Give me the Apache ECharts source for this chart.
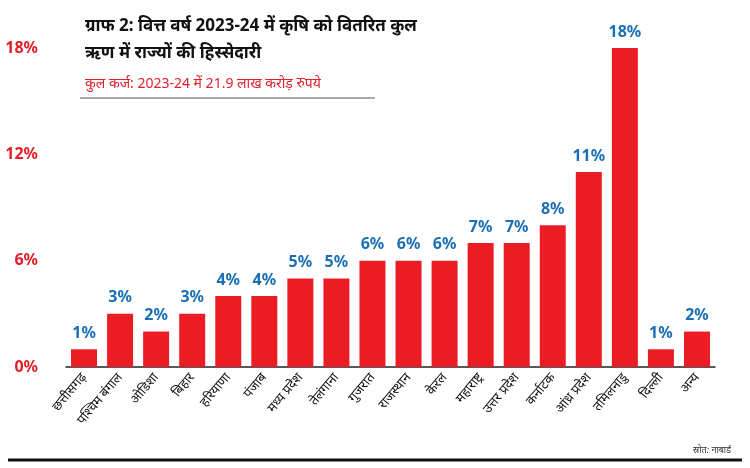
<!DOCTYPE html>
<html><head><meta charset="utf-8">
<script src="https://cdn.jsdelivr.net/npm/echarts@6/dist/echarts.min.js"></script>
<style>body{margin:0}#c{width:750px;height:468px}</style></head>
<body><div id="c"></div>
<script>
const categories=["छत्तीसगढ़","पश्चिम बंगाल","ओडिशा","बिहार","हरियाणा","पंजाब","मध्य प्रदेश","तेलंगाना","गुजरात","राजस्थान","केरल","महाराष्ट्र","उत्तर प्रदेश","कर्नाटक","आंध्र प्रदेश","तमिलनाडु","दिल्ली","अन्य"];
const values=[1,3,2,3,4,4,5,5,6,6,6,7,7,8,11,18,1,2];
const yTicks=[0,6,12,18];
const F="'Noto Sans', sans-serif";
const chart=echarts.init(document.getElementById('c'));
chart.setOption({
 animation:false,
 title:[{text:"ग्राफ 2: वित्त वर्ष 2023-24 में कृषि को वितरित कुल\nऋण में राज्यों की हिस्सेदारी",left:80,top:8,textStyle:{fontFamily:F,fontSize:17,fontWeight:'bold',color:'#111',lineHeight:27}},
 {text:"कुल कर्ज: 2023-24 में 21.9 लाख करोड़ रुपये",left:80,top:72,textStyle:{fontFamily:F,fontSize:14,fontWeight:'normal',color:'#e3202a'}},
 {text:"स्रोत: नाबार्ड",right:14,top:441,textStyle:{fontFamily:F,fontSize:9,fontWeight:'normal',fontStyle:'italic',color:'#333'}}],
 graphic:[{type:'line',shape:{x1:80,y1:98,x2:375,y2:98},style:{stroke:'#555',lineWidth:1}},
 {type:'line',shape:{x1:8,y1:460,x2:742,y2:460},style:{stroke:'#111',lineWidth:3}}],
 grid:{left:66,right:35,top:48,bottom:101},
 xAxis:{type:'category',data:categories,axisTick:{show:false},axisLine:{lineStyle:{color:'#222',width:1.5}},
  axisLabel:{rotate:50,interval:0,fontFamily:F,fontSize:13,color:'#111',margin:8}},
 yAxis:{type:'value',min:0,max:18,interval:6,splitLine:{show:false},axisLine:{show:false},axisTick:{show:false},
  axisLabel:{formatter:v=>yTicks.includes(v)?v+'%':'',fontFamily:F,fontSize:16,fontWeight:'bold',color:'#e3202a',margin:28}},
 series:[{type:'bar',data:values,barWidth:26,itemStyle:{color:'#ec1c24'},
  label:{show:true,position:'top',formatter:'{c}%',fontFamily:F,fontSize:16,fontWeight:'bold',color:'#1a6fb5',distance:8}}]
});
</script></body></html>
